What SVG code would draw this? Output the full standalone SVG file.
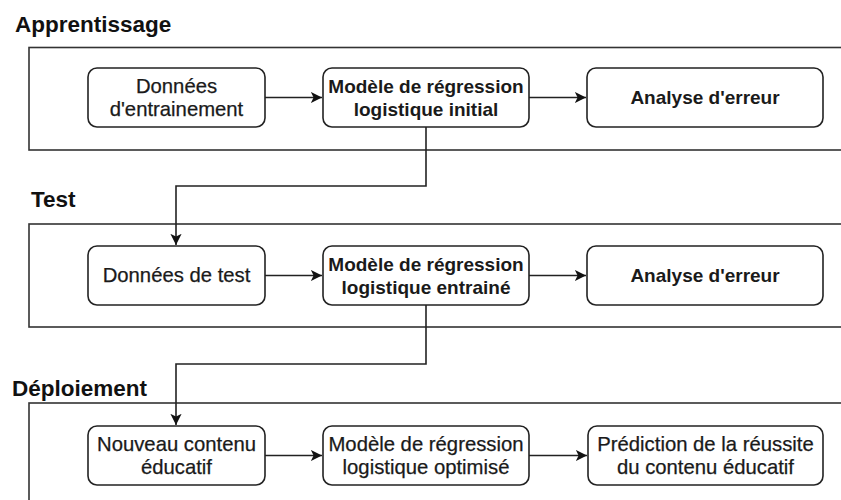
<svg xmlns="http://www.w3.org/2000/svg" width="841" height="500" viewBox="0 0 841 500">
<defs>
<style>
.title{font-family:"Liberation Sans",Arial,sans-serif;font-size:22.5px;font-weight:bold;fill:#111}
.lane{fill:none;stroke:#333;stroke-width:1.6}
.node rect{fill:#fff;stroke:#222;stroke-width:1.6}
.node text{font-family:"Liberation Sans",Arial,sans-serif;fill:#1a1a1a;text-anchor:middle}
.b{font-size:19px;font-weight:bold}
.r{font-size:20.3px;stroke:#1a1a1a;stroke-width:0.25}
.edge{fill:none;stroke:#222;stroke-width:1.6}
</style>
<marker id="arr" viewBox="0 0 10 10" refX="10" refY="5" markerWidth="7" markerHeight="7" markerUnits="strokeWidth" orient="auto">
<path d="M0,0 L10,5 L0,10 L2.5,5 Z" fill="#111"/>
</marker>
</defs>

<g id="lane-apprentissage">
<text class="title" x="15" y="32">Apprentissage</text>
<rect class="lane" x="29" y="47.5" width="830" height="102.5"/>
</g>
<g id="lane-test">
<text class="title" x="31" y="207">Test</text>
<rect class="lane" x="29" y="224" width="830" height="103"/>
</g>
<g id="lane-deploiement">
<text class="title" x="12" y="396">Déploiement</text>
<rect class="lane" x="29" y="403" width="830" height="110"/>
</g>

<g id="connectors">
<path class="edge" d="M265,97.5 H322" marker-end="url(#arr)"/>
<path class="edge" d="M529,97.5 H586" marker-end="url(#arr)"/>
<path class="edge" d="M426,127 V186 H176 V245" marker-end="url(#arr)"/>
<path class="edge" d="M265,275.5 H322" marker-end="url(#arr)"/>
<path class="edge" d="M529,275.5 H586" marker-end="url(#arr)"/>
<path class="edge" d="M426,305 V364 H176 V425" marker-end="url(#arr)"/>
<path class="edge" d="M265,455.5 H322" marker-end="url(#arr)"/>
<path class="edge" d="M529,455.5 H587" marker-end="url(#arr)"/>
</g>

<g id="n-donnees-entrainement" class="node">
<rect x="88" y="68" width="177" height="59" rx="9"/>
<text class="r" x="176.5" y="93">Données</text>
<text class="r" x="176.5" y="116">d'entrainement</text>
</g>
<g id="n-modele-initial" class="node">
<rect x="323" y="68" width="206" height="59" rx="9"/>
<text class="b" x="426" y="93">Modèle de régression</text>
<text class="b" x="426" y="116">logistique initial</text>
</g>
<g id="n-analyse-1" class="node">
<rect x="587" y="68" width="236" height="59" rx="9"/>
<text class="b" x="705" y="104">Analyse d'erreur</text>
</g>

<g id="n-donnees-test" class="node">
<rect x="88" y="246" width="177" height="59" rx="9"/>
<text class="r" x="176.5" y="282">Données de test</text>
</g>
<g id="n-modele-entraine" class="node">
<rect x="323" y="246" width="206" height="59" rx="9"/>
<text class="b" x="426" y="271">Modèle de régression</text>
<text class="b" x="426" y="294">logistique entrainé</text>
</g>
<g id="n-analyse-2" class="node">
<rect x="587" y="246" width="236" height="59" rx="9"/>
<text class="b" x="705" y="282">Analyse d'erreur</text>
</g>

<g id="n-nouveau-contenu" class="node">
<rect x="88" y="426" width="177" height="59" rx="9"/>
<text class="r" x="176.5" y="451">Nouveau contenu</text>
<text class="r" x="176.5" y="474">éducatif</text>
</g>
<g id="n-modele-optimise" class="node">
<rect x="323" y="426" width="206" height="59" rx="9"/>
<text class="r" x="426" y="451">Modèle de régression</text>
<text class="r" x="426" y="474">logistique optimisé</text>
</g>
<g id="n-prediction" class="node">
<rect x="588" y="426" width="235" height="59" rx="9"/>
<text class="r" x="705.5" y="451">Prédiction de la réussite</text>
<text class="r" x="705.5" y="474">du contenu éducatif</text>
</g>
</svg>
